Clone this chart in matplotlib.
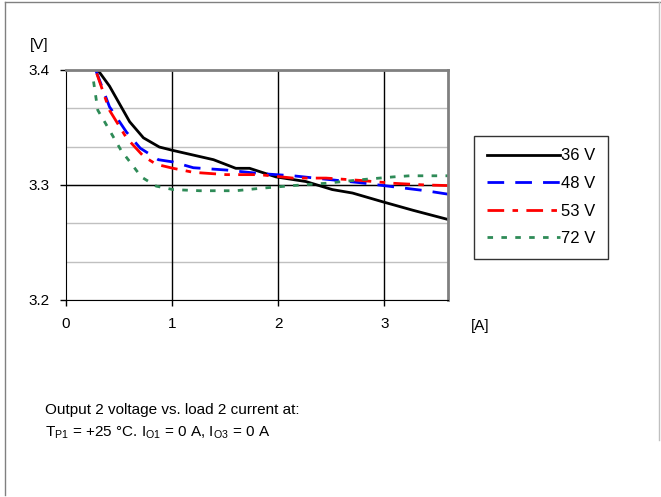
import matplotlib.pyplot as plt
import numpy as np
from matplotlib.lines import Line2D

# load current [A] and output voltage [V] for each input voltage
i_36 = [0.30, 0.41, 0.60, 0.73, 0.88, 1.01, 1.20, 1.39, 1.60, 1.73, 1.98, 2.26, 2.51, 2.70, 2.98, 3.27, 3.60]
v_36 = [3.400, 3.386, 3.355, 3.341, 3.333, 3.330, 3.326, 3.322, 3.3145, 3.3145, 3.307, 3.303, 3.296, 3.293, 3.2855, 3.278, 3.270]

i_48 = [0.28, 0.41, 0.57, 0.70, 0.87, 1.01, 1.20, 1.51, 1.82, 2.14, 2.45, 2.77, 3.08, 3.39, 3.60]
v_48 = [3.400, 3.368, 3.346, 3.332, 3.322, 3.320, 3.315, 3.313, 3.310, 3.308, 3.305, 3.302, 3.2985, 3.295, 3.292]

i_53 = [0.29, 0.41, 0.57, 0.73, 0.85, 1.01, 1.20, 1.51, 1.82, 2.14, 2.45, 2.77, 3.08, 3.39, 3.60]
v_53 = [3.397, 3.365, 3.341, 3.325, 3.318, 3.3145, 3.311, 3.309, 3.309, 3.306, 3.306, 3.304, 3.3015, 3.300, 3.2995]

i_72 = [0.26, 0.30, 0.37, 0.445, 0.52, 0.62, 0.71, 0.85, 1.01, 1.26, 1.60, 1.82, 2.14, 2.45, 2.77, 3.08, 3.24, 3.60]
v_72 = [3.390, 3.365, 3.354, 3.342, 3.330, 3.318, 3.307, 3.299, 3.296, 3.295, 3.295, 3.297, 3.2995, 3.3015, 3.3045, 3.307, 3.308, 3.308]

labels = ['36 V', '48 V', '53 V', '72 V']

plt.rcParams['font.family'] = ['Liberation Sans', 'DejaVu Sans']

fig = plt.figure(figsize=(6.61, 4.97), dpi=100)
ax = fig.add_axes([0.0998, 0.3964, 0.578, 0.4628])

# minor grid every 1/30 V, major line at 3.3
for yv in np.arange(3.2, 3.4001, 0.1 / 3):
    ax.axhline(yv, color='#c0c0c0', lw=1, zorder=0)
ax.axhline(3.3, color='black', lw=1, zorder=0.5)
for xv in [1, 2, 3]:
    ax.axvline(xv, color='black', lw=1, zorder=0.5)

ax.plot(i_36, v_36, color='black', lw=2, label=labels[0])
ax.plot(i_48, v_48, color='#0000ff', lw=2, dashes=(6, 4), label=labels[1])
ax.plot(i_53, v_53, color='#ff0000', lw=2, dashes=(6, 3, 2, 3), label=labels[2])
ax.plot(i_72, v_72, color='#2e8b57', lw=2, dashes=(2, 3), label=labels[3])

ax.set_xlim(0, 3.6)
ax.set_ylim(3.2, 3.4)
ax.set_xticks([0, 1, 2, 3])
ax.set_xticklabels(['0', '1', '2', '3'])
ax.set_yticks([3.2, 3.3, 3.4])
ax.set_yticklabels(['3.2', '3.3', '3.4'])
ax.tick_params(labelsize=11, length=4, width=1, direction='out', pad=8)
ax.spines['left'].set_color('black')
ax.spines['bottom'].set_color('black')
ax.spines['top'].set_color('#808080')
ax.spines['right'].set_color('#808080')
ax.spines['top'].set_linewidth(2)
ax.spines['right'].set_linewidth(2)

fig.text(30 / 661, 1 - 45 / 497, '[V]', fontsize=11, ha='left', va='center')
fig.text(480 / 661, 1 - 326 / 497, '[A]', fontsize=11, ha='center', va='center')

handles = [Line2D([], [], color='black', lw=2),
           Line2D([], [], color='#0000ff', lw=2, dashes=(6, 4)),
           Line2D([], [], color='#ff0000', lw=2, dashes=(6, 3, 2, 3)),
           Line2D([], [], color='#2e8b57', lw=2, dashes=(2, 3))]
leg = fig.legend(handles, labels, loc='upper left', bbox_to_anchor=(474 / 661, 1 - 136 / 497),
                 fontsize=12, frameon=True, fancybox=False, handlelength=4.4,
                 handletextpad=0.05, borderpad=0.75, labelspacing=0.75, borderaxespad=0)
leg.get_frame().set_edgecolor('black')
leg.get_frame().set_linewidth(1)

fig.text(45 / 661, 1 - 410 / 497, 'Output 2 voltage vs. load 2 current at:', fontsize=11,
         ha='left', va='center')
fig.text(45 / 661, 1 - 433 / 497,
         r'T$_{\mathregular{P1}}$ = +25 °C. I$_{\mathregular{O1}}$ = 0 A, I$_{\mathregular{O3}}$ = 0 A',
         fontsize=11, ha='left', va='center')

# outer frame
fig.add_artist(Line2D([5 / 661, 660 / 661], [1 - 2 / 497, 1 - 2 / 497], color='#808080', lw=1))
fig.add_artist(Line2D([5 / 661, 5 / 661], [1 - 2 / 497, 1 - 495 / 497], color='#808080', lw=1))
fig.add_artist(Line2D([659 / 661, 659 / 661], [1 - 2 / 497, 1 - 440 / 497], color='#c0c0c0', lw=1))

fig.savefig('out.png', dpi=100)
